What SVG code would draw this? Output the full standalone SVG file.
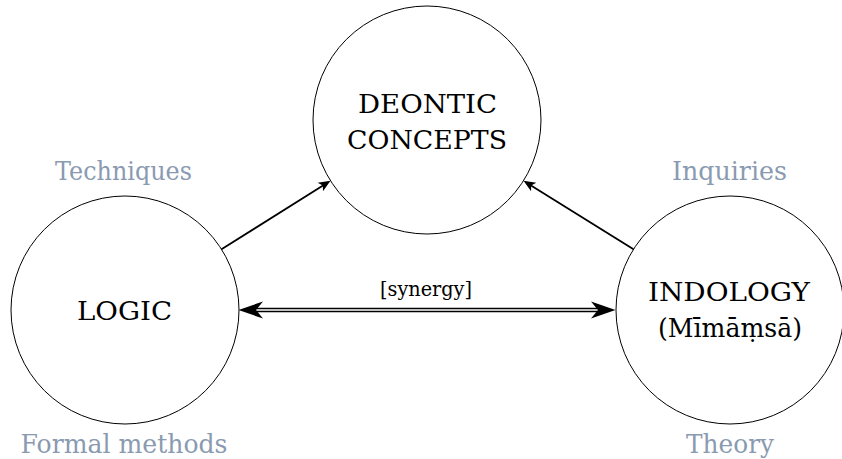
<svg xmlns="http://www.w3.org/2000/svg" width="842" height="459" viewBox="0 0 842 459">
  <style>
    .node { fill: #fff; stroke: #000; stroke-width: 1; }
    text { font-family: 'DejaVu Serif', 'Liberation Serif', serif; text-anchor: middle; }
    .t { font-size: 26px; fill: #000; }
    .g { font-size: 26px; fill: #8a9ab0; }
    .lbl { font-size: 21px; fill: #000; }
    .edge { stroke: #000; stroke-width: 1.8; fill: none; }
  </style>
  <defs>
    <marker id="stealth" markerUnits="userSpaceOnUse" viewBox="-8 -7 16 14" markerWidth="16" markerHeight="14" refX="0" refY="0" orient="auto">
      <path d="M6,0 L-6,-5 L-3,0 L-6,5 Z" fill="#000"/>
    </marker>
  </defs>
  <rect width="842" height="459" fill="#fff"/>

  <g id="connectors">
    <line class="edge" x1="221.5" y1="249.3" x2="325.4" y2="183.9" marker-end="url(#stealth)"/>
    <line class="edge" x1="633.5" y1="249.3" x2="528.6" y2="183.9" marker-end="url(#stealth)"/>
    <g id="synergy-edge">
      <path d="M250,310 H604" stroke="#000" stroke-width="4.4" fill="none"/>
      <path d="M251,310 H603" stroke="#fff" stroke-width="1.4" fill="none"/>
      <polygon points="238.5,310 263,301.5 256,310 263,318.5" fill="#000"/>
      <polygon points="615.5,310 591,301.5 598,310 591,318.5" fill="#000"/>
      <text class="lbl" x="426" y="296" textLength="92" lengthAdjust="spacingAndGlyphs">[synergy]</text>
    </g>
  </g>

  <g id="deontic">
    <circle class="node" cx="427" cy="120" r="114"/>
    <text class="t" x="427.5" y="113" textLength="139" lengthAdjust="spacingAndGlyphs">DEONTIC</text>
    <text class="t" x="427" y="149" textLength="160" lengthAdjust="spacingAndGlyphs">CONCEPTS</text>
  </g>

  <g id="logic">
    <circle class="node" cx="125" cy="310" r="114"/>
    <text class="t" x="124.5" y="320" textLength="95" lengthAdjust="spacingAndGlyphs">LOGIC</text>
  </g>

  <g id="indology">
    <circle class="node" cx="730" cy="310" r="114"/>
    <text class="t" x="729" y="301" textLength="162" lengthAdjust="spacingAndGlyphs">INDOLOGY</text>
    <text class="t" x="730" y="337" textLength="144" lengthAdjust="spacingAndGlyphs">(Mīmāṃsā)</text>
  </g>

  <g id="labels">
    <text class="g" x="123.5" y="180" textLength="137" lengthAdjust="spacingAndGlyphs">Techniques</text>
    <text class="g" x="729.5" y="180" textLength="115" lengthAdjust="spacingAndGlyphs">Inquiries</text>
    <text class="g" x="124" y="453" textLength="207" lengthAdjust="spacingAndGlyphs">Formal methods</text>
    <text class="g" x="730" y="453" textLength="88" lengthAdjust="spacingAndGlyphs">Theory</text>
  </g>
</svg>
